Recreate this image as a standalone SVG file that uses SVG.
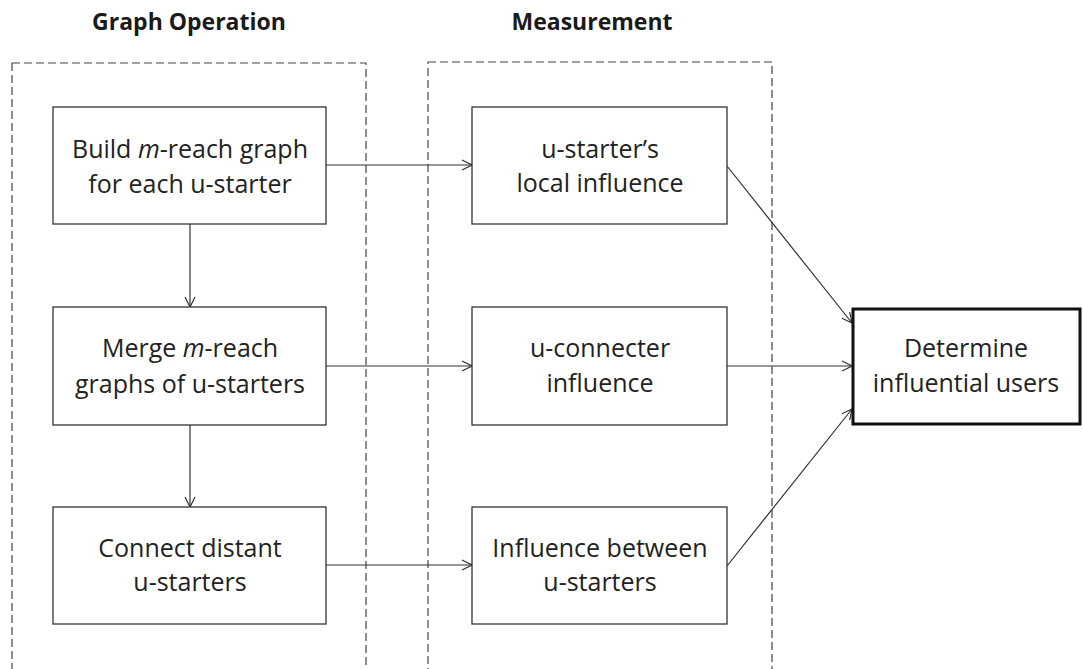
<svg xmlns="http://www.w3.org/2000/svg" width="1083" height="669" viewBox="0 0 1083 669">
  <defs>
    <marker id="arrow" viewBox="0 0 12 12" refX="11" refY="6" markerWidth="12" markerHeight="12" markerUnits="userSpaceOnUse" orient="auto">
      <path d="M1,1 L11,6 L1,11" fill="none" stroke="#333" stroke-width="1.2"/>
    </marker>
  </defs>
  <style>
    .title { font-family: "Open Sans", Lato, sans-serif; font-weight: bold; font-size: 23px; fill: #1a1a1a; text-anchor: middle; }
    .group { fill: none; stroke: #444; stroke-width: 1.2; stroke-dasharray: 8 4; }
    .box { fill: #fff; stroke: #333; stroke-width: 1.3; }
    .final { fill: #fff; stroke: #111; stroke-width: 3; }
    .label { font-family: "Open Sans", Lato, sans-serif; font-size: 25px; fill: #222; text-anchor: middle; }
    .edge { fill: none; stroke: #333; stroke-width: 1.2; marker-end: url(#arrow); }
  </style>
  <rect width="1083" height="669" fill="#fff"/>

  <!-- column headings and dashed group frames -->
  <g id="graph-operation">
    <text class="title" x="189" y="30">Graph Operation</text>
    <rect class="group" x="12" y="63" width="354" height="610"/>
  </g>
  <g id="measurement">
    <text class="title" x="592" y="30">Measurement</text>
    <rect class="group" x="428" y="62" width="344" height="611"/>
  </g>

  <!-- connectors -->
  <g id="connectors">
    <line class="edge" x1="190" y1="224" x2="190" y2="307"/>
    <line class="edge" x1="190" y1="425" x2="190" y2="507"/>
    <line class="edge" x1="326" y1="165" x2="472" y2="165"/>
    <line class="edge" x1="326" y1="366" x2="472" y2="366"/>
    <line class="edge" x1="326" y1="565" x2="472" y2="565"/>
    <line class="edge" x1="727" y1="166" x2="852" y2="323"/>
    <line class="edge" x1="727" y1="366" x2="852" y2="366"/>
    <line class="edge" x1="727" y1="566" x2="852" y2="409"/>
  </g>

  <!-- graph operation steps -->
  <g id="build">
    <rect class="box" x="53" y="107" width="273" height="117"/>
    <text class="label" x="190" y="158">Build <tspan font-style="italic">m</tspan>-reach graph</text>
    <text class="label" x="190" y="193">for each u-starter</text>
  </g>
  <g id="merge">
    <rect class="box" x="53" y="307" width="273" height="118"/>
    <text class="label" x="190" y="357">Merge <tspan font-style="italic">m</tspan>-reach</text>
    <text class="label" x="190" y="393">graphs of u-starters</text>
  </g>
  <g id="connect">
    <rect class="box" x="53" y="507" width="273" height="117"/>
    <text class="label" x="190" y="557">Connect distant</text>
    <text class="label" x="190" y="591">u-starters</text>
  </g>

  <!-- measurements -->
  <g id="local-influence">
    <rect class="box" x="472" y="107" width="255" height="117"/>
    <text class="label" x="600" y="158">u-starter’s</text>
    <text class="label" x="600" y="192">local influence</text>
  </g>
  <g id="connecter-influence">
    <rect class="box" x="472" y="307" width="255" height="118"/>
    <text class="label" x="600" y="357">u-connecter</text>
    <text class="label" x="600" y="392">influence</text>
  </g>
  <g id="between-influence">
    <rect class="box" x="472" y="507" width="255" height="117"/>
    <text class="label" x="600" y="557">Influence between</text>
    <text class="label" x="600" y="591">u-starters</text>
  </g>

  <!-- result -->
  <g id="determine">
    <rect class="final" x="853" y="309" width="227" height="115"/>
    <text class="label" x="966" y="357">Determine</text>
    <text class="label" x="966" y="392">influential users</text>
  </g>
</svg>
